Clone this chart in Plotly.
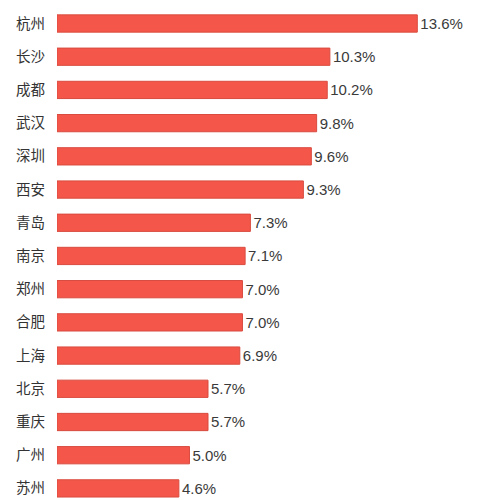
import plotly.graph_objects as go

# 城市及对应数值（从上到下）
cities = ["杭州", "长沙", "成都", "武汉", "深圳", "西安", "青岛", "南京",
          "郑州", "合肥", "上海", "北京", "重庆", "广州", "苏州"]
values = [13.6, 10.3, 10.2, 9.8, 9.6, 9.3, 7.3, 7.1,
          7.0, 7.0, 6.9, 5.7, 5.7, 5.0, 4.6]

BAR_COLOR = "#F4574A"
EDGE_COLOR = "#D94B3F"

fig = go.Figure(
    go.Bar(
        x=values, y=cities, orientation="h",
        marker=dict(color=BAR_COLOR, line=dict(color=EDGE_COLOR, width=1)),
        texttemplate="%{x:.1f}%", textposition="outside",
        textfont=dict(family="Liberation Sans, Arial", size=15, color="#3a3a3a"),
        constraintext="none",
        cliponaxis=False,
    )
)

# 页面 body 自带 8px 边距，这里把边距扣掉以对齐原图
fig.update_layout(
    width=488, height=500,
    margin=dict(l=49, r=0, t=0, b=0, autoexpand=False),
    paper_bgcolor="white", plot_bgcolor="white",
    bargap=0.48, showlegend=False,
    font=dict(family="Noto Sans CJK SC, sans-serif"),
)
fig.update_xaxes(range=[0, 16.57], visible=False, automargin=False)
fig.update_yaxes(
    categoryorder="array", categoryarray=cities,
    range=[14.59, -0.467],
    automargin=False,
    showgrid=False, zeroline=False, showline=False,
    ticklabelstandoff=11,
    tickfont=dict(size=14.5, color="#333333"),
)

fig.write_html("out.html")
